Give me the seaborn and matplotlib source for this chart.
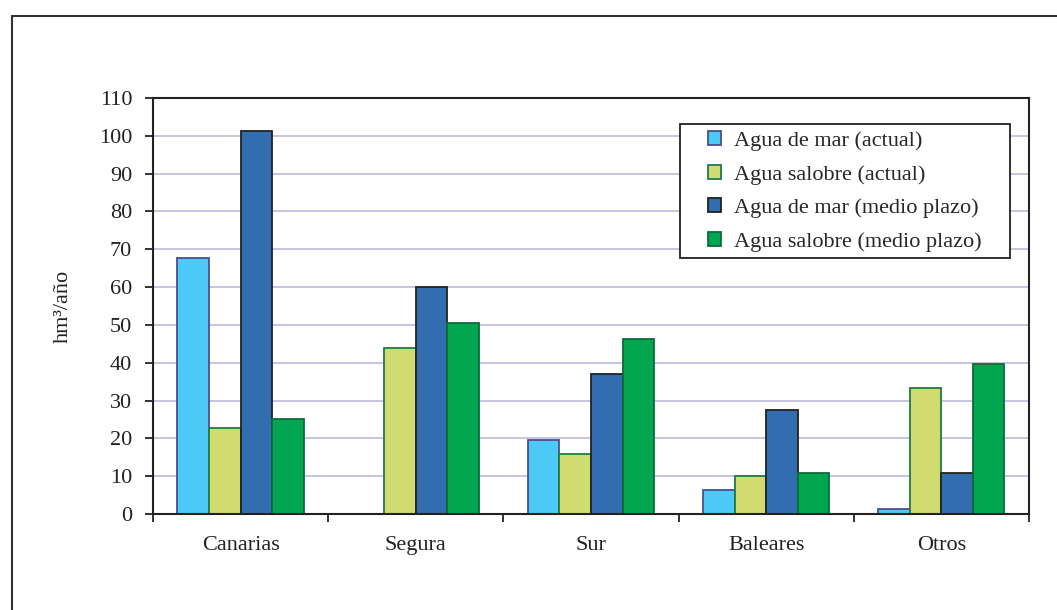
import matplotlib
matplotlib.use("Agg")
import matplotlib.pyplot as plt
from matplotlib.lines import Line2D
from matplotlib.patches import Rectangle
import seaborn as sns
import pandas as pd

# -----------------------------
# datos (hm3/año)
# -----------------------------
regiones = ["Canarias", "Segura", "Sur", "Baleares", "Otros"]
series = ["Agua de mar (actual)", "Agua salobre (actual)",
          "Agua de mar (medio plazo)", "Agua salobre (medio plazo)"]
mar_actual = [67.7, 0.0, 19.6, 6.3, 1.3]
salobre_actual = [22.7, 43.9, 15.9, 10.0, 33.4]
mar_medio = [101.3, 60.0, 37.0, 27.5, 10.8]
salobre_medio = [25.1, 50.5, 46.3, 10.8, 39.7]

colores = ["#4CC9F4", "#D0DC70", "#326DB0", "#00A650"]
bordes = ["#4A4F8C", "#1E7A4A", "#222222", "#0F6B3A"]

rows = []
for s, vals in zip(series, [mar_actual, salobre_actual, mar_medio, salobre_medio]):
    for r, v in zip(regiones, vals):
        rows.append({"region": r, "serie": s, "valor": v})
df = pd.DataFrame(rows)

sns.set_style("white")
plt.rcParams["font.family"] = ["Liberation Serif", "DejaVu Serif"]
plt.rcParams["font.size"] = 16
FS = 16
TXT = "#222222"
W, H = 1057, 610

fig = plt.figure(figsize=(10.57, 6.1), dpi=100)
ax = fig.add_axes([0.1447, 0.1574, 0.8288, 0.6819])

sns.barplot(data=df, x="region", y="valor", hue="serie", order=regiones,
            hue_order=series, palette=colores, saturation=1, width=0.72,
            ax=ax, zorder=3)

for cont, ec in zip(ax.containers, bordes):
    for p in cont.patches:
        p.set_edgecolor(ec)
        p.set_linewidth(1.3)

ax.set_ylim(0, 110)
ax.set_yticks(range(0, 111, 10))
ax.set_xlim(-0.5, 4.5)
ax.yaxis.grid(True, color="#C2BEE2", linewidth=1.3, zorder=0)
ax.set_axisbelow(True)

for sp in ax.spines.values():
    sp.set_visible(True)
    sp.set_color(TXT)
    sp.set_linewidth(1.5)
    sp.set_zorder(5)

# ticks del eje x entre categorias
ax.set_xticks([-0.5, 0.5, 1.5, 2.5, 3.5, 4.5], minor=False)
ax.set_xticklabels([])
ax.set_xticks(range(5), minor=True)
ax.set_xticklabels(regiones, minor=True)
ax.tick_params(axis="x", which="major", direction="out", length=6, width=1.3,
               color=TXT, bottom=True)
ax.tick_params(axis="x", which="minor", length=0, pad=16, labelsize=FS,
               labelcolor=TXT)
ax.tick_params(axis="y", direction="out", length=6, width=1.3, color=TXT,
               left=True, pad=9, labelsize=FS, labelcolor=TXT)

ax.set_xlabel("")
ax.set_ylabel("hm³/año", fontsize=FS, color=TXT)
ax.yaxis.set_label_coords(-0.092, 0.5)

# leyenda sin marco; el marco se dibuja aparte
leg = ax.legend(loc="upper left", bbox_to_anchor=(708 / W, 1 - 131 / H),
                bbox_transform=fig.transFigure, frameon=False,
                fontsize=FS, handlelength=0.6, handleheight=0.6,
                handletextpad=0.55, labelspacing=0.62, borderpad=0,
                borderaxespad=0, title=None)
for h, ec in zip(leg.legend_handles, bordes):
    h.set_edgecolor(ec)
    h.set_linewidth(1.3)
leg.set_zorder(8)
ax.add_patch(Rectangle((680 / W, 1 - 258 / H), 330 / W, 134 / H,
                       transform=fig.transFigure, facecolor="white",
                       edgecolor=TXT, linewidth=1.3, zorder=7, clip_on=False))

# marco exterior
fig.add_artist(Line2D([12 / W, 1.0], [1 - 16 / H, 1 - 16 / H],
                      color="#333333", linewidth=1.5))
fig.add_artist(Line2D([12 / W, 12 / W], [0.0, 1 - 16 / H],
                      color="#333333", linewidth=1.5))

fig.savefig("out.png", dpi=100)
